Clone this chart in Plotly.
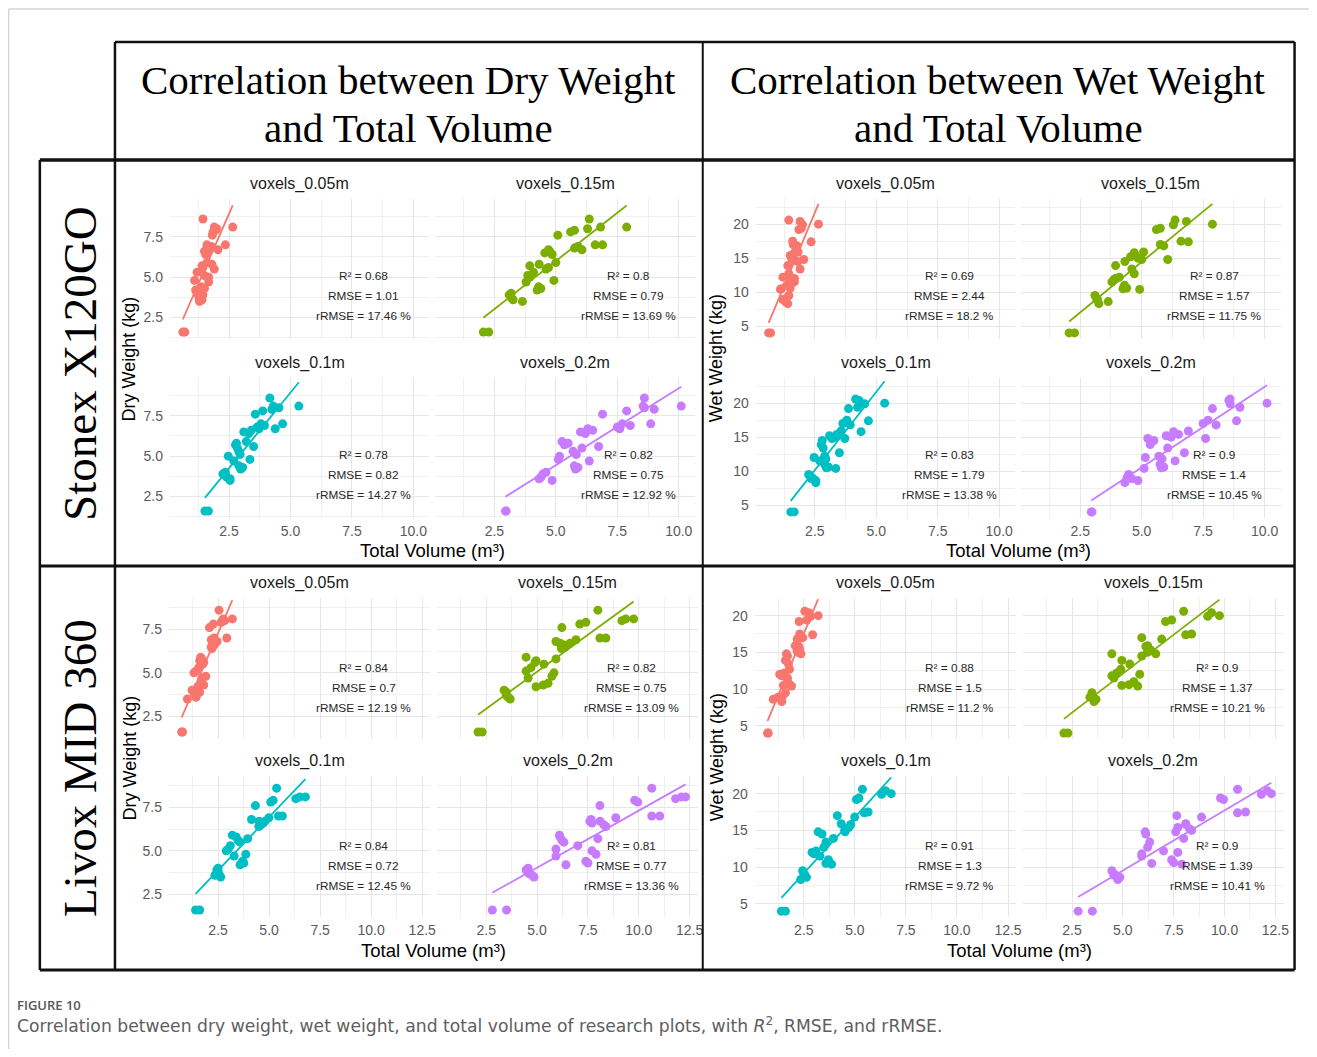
import numpy as np
import plotly.graph_objects as go

# the page body adds an 8 px margin; the figure is sized to fit inside the window
OFF = 8
FW, FH = 1317 - 2 * OFF, 1057 - 2 * OFF
SX = 1.006   # small horizontal calibration of the layout grid

# ---------------- data ----------------
# one entry per research plot; the same plots appear in every facet
DRY_WEIGHT = [1.6, 1.6, 3.5, 3.6, 3.7, 3.9, 4.0, 4.2, 4.3, 4.4, 4.7, 4.8, 5.0, 5.1, 5.3, 5.5, 5.6, 5.7,
              5.8, 5.9, 6.4, 6.5, 6.6, 6.7, 6.7, 6.8, 6.9, 7.0, 7.0, 7.6, 7.8, 7.9, 8.0, 8.1, 8.1, 8.6]
WET_WEIGHT = [4.0, 4.0, 8.6, 8.3, 9.0, 9.5, 8.9, 10.5, 10.6, 11.0, 11.5, 10.4, 12.0, 11.8, 12.2, 13.4, 12.7, 13.9,
              14.5, 14.8, 15.0, 15.2, 15.4, 14.8, 15.8, 17.0, 16.8, 17.4, 17.5, 15.9, 19.2, 19.4, 19.9, 20.4, 20.0, 20.6]

VOL_STONEX_005 = [0.62, 0.7, 1.3, 1.4, 1.28, 1.44, 1.2, 1.14, 1.5, 1.36, 1.67, 1.1, 1.67, 1.5, 1.2, 1.9, 1.44, 1.4,
                  1.8, 1.6, 1.55, 1.6, 1.5, 2.05, 1.67, 1.62, 1.78, 2.35, 1.6, 1.82, 1.85, 1.95, 2.0, 1.9, 2.65, 1.44]
VOL_STONEX_010 = [1.52, 1.66, 2.54, 2.54, 2.4, 2.25, 2.35, 2.97, 3.05, 2.9, 2.7, 3.35, 2.47, 2.95, 2.9, 2.84, 3.5, 2.76,
                  2.8, 3.2, 3.3, 3.1, 3.4, 3.72, 4.38, 3.64, 3.94, 4.68, 3.8, 3.57, 3.87, 4.24, 4.53, 4.3, 5.34, 4.16]
VOL_STONEX_015 = [2.05, 2.27, 3.64, 3.26, 3.2, 3.1, 3.18, 4.24, 4.39, 4.3, 3.79, 4.92, 3.94, 3.86, 4.09, 4.6, 4.7, 3.94,
                  4.32, 5.0, 4.85, 4.55, 4.75, 6.06, 4.7, 5.76, 5.9, 6.9, 6.6, 5.08, 5.6, 5.76, 6.29, 6.82, 7.88, 6.36]
VOL_STONEX_020 = [2.95, 2.98, 4.85, 4.32, 4.4, 4.47, 4.6, 5.8, 5.9, 5.75, 6.36, 5.1, 5.15, 5.83, 5.7, 6.06, 6.74, 5.35,
                  5.5, 5.25, 6.2, 6.0, 6.5, 7.6, 6.3, 7.5, 8.03, 8.86, 7.7, 6.9, 7.88, 9.0, 8.6, 8.55, 10.1, 8.6]
VOL_LIVOX_005 = [0.72, 0.76, 1.0, 1.42, 1.45, 1.6, 1.23, 1.5, 1.8, 1.7, 1.7, 1.9, 1.32, 1.42, 1.55, 1.75, 1.8, 1.6,
                 1.7, 1.65, 2.2, 2.17, 2.3, 2.36, 2.25, 2.45, 2.17, 2.93, 2.3, 2.08, 2.27, 2.65, 2.83, 2.75, 3.2, 2.55]
VOL_LIVOX_010 = [1.4, 1.6, 2.63, 2.35, 2.54, 2.44, 2.5, 3.58, 3.76, 3.7, 3.29, 3.86, 2.9, 3.0, 3.1, 3.58, 3.48, 3.95,
                 3.39, 3.2, 4.5, 4.6, 4.71, 4.52, 4.8, 4.14, 4.99, 5.46, 5.65, 4.33, 5.08, 5.2, 6.31, 6.5, 6.78, 5.37]
VOL_LIVOX_015 = [2.1, 2.3, 3.68, 3.58, 3.5, 3.48, 3.38, 4.95, 5.3, 5.54, 4.56, 5.73, 5.83, 4.46, 4.7, 5.34, 4.9, 4.95,
                 5.93, 4.46, 6.2, 6.4, 6.32, 6.62, 6.13, 5.93, 6.91, 8.09, 8.38, 6.22, 7.1, 7.4, 9.17, 9.36, 9.75, 7.99]
VOL_LIVOX_020 = [2.8, 3.5, 4.85, 4.75, 4.6, 4.46, 4.56, 6.42, 7.5, 7.4, 5.93, 7.9, 7.7, 5.93, 7.0, 6.32, 6.22, 7.99,
                 6.13, 6.1, 8.38, 8.28, 7.7, 7.6, 8.1, 7.65, 8.87, 10.64, 11.03, 8.09, 9.95, 9.8, 11.81, 12.1, 12.3, 10.64]

SENSORS = ["Stonex X120GO", "Livox MID 360"]
TARGETS = ["Dry", "Wet"]
VOXELS = ["voxels_0.05m", "voxels_0.15m", "voxels_0.1m", "voxels_0.2m"]   # facet order (row-wise)

VOLUMES = {
    ("Stonex X120GO", "voxels_0.05m"): VOL_STONEX_005,
    ("Stonex X120GO", "voxels_0.1m"): VOL_STONEX_010,
    ("Stonex X120GO", "voxels_0.15m"): VOL_STONEX_015,
    ("Stonex X120GO", "voxels_0.2m"): VOL_STONEX_020,
    ("Livox MID 360", "voxels_0.05m"): VOL_LIVOX_005,
    ("Livox MID 360", "voxels_0.1m"): VOL_LIVOX_010,
    ("Livox MID 360", "voxels_0.15m"): VOL_LIVOX_015,
    ("Livox MID 360", "voxels_0.2m"): VOL_LIVOX_020,
}
WEIGHTS = {"Dry": DRY_WEIGHT, "Wet": WET_WEIGHT}

# printed statistics per facet in VOXELS order
R2 = {("Stonex X120GO", "Dry"): [0.68, 0.8, 0.78, 0.82],
      ("Stonex X120GO", "Wet"): [0.69, 0.87, 0.83, 0.9],
      ("Livox MID 360", "Dry"): [0.84, 0.82, 0.84, 0.81],
      ("Livox MID 360", "Wet"): [0.88, 0.9, 0.91, 0.9]}
RMSE = {("Stonex X120GO", "Dry"): [1.01, 0.79, 0.82, 0.75],
        ("Stonex X120GO", "Wet"): [2.44, 1.57, 1.79, 1.4],
        ("Livox MID 360", "Dry"): [0.7, 0.75, 0.72, 0.77],
        ("Livox MID 360", "Wet"): [1.5, 1.37, 1.3, 1.39]}
RRMSE = {("Stonex X120GO", "Dry"): [17.46, 13.69, 14.27, 12.92],
         ("Stonex X120GO", "Wet"): [18.2, 11.75, 13.38, 10.45],
         ("Livox MID 360", "Dry"): [12.19, 13.09, 12.45, 13.36],
         ("Livox MID 360", "Wet"): [11.2, 10.21, 9.72, 10.41]}

COLORS = {"voxels_0.05m": "#F8766D", "voxels_0.15m": "#7CAE00",
          "voxels_0.1m": "#00BFC4", "voxels_0.2m": "#C77CFF"}


# ---------------- layout geometry (window pixels) ----------------
def px(x):
    return (40 + (x - 40) * SX - OFF) / FW


def py(y):
    return 1 - (y - OFF) / FH


CELL_GEOM = {
    ("Stonex X120GO", "Dry"): dict(cols=[(170, 429), (435, 694)], rows=[(199, 339), (378, 518)],
                                   xrange=[0.1, 10.65], yrange=[1.17, 9.84], ytitle_x=130, xtitle_y=550,
                                   stat_off=[77, 97, 117]),
    ("Stonex X120GO", "Wet"): dict(cols=[(755, 1014), (1020, 1279)], rows=[(199, 339), (378, 518)],
                                   xrange=[0.1, 10.65], yrange=[3.1, 23.7], ytitle_x=716, xtitle_y=550,
                                   stat_off=[77, 97, 117]),
    ("Livox MID 360", "Dry"): dict(cols=[(169, 430), (437, 697)], rows=[(598, 739), (776, 917)],
                                   xrange=[0.1, 12.9], yrange=[1.2, 9.3], ytitle_x=130, xtitle_y=950,
                                   stat_off=[70, 90, 110]),
    ("Livox MID 360", "Wet"): dict(cols=[(754, 1015), (1022, 1282)], rows=[(598, 739), (776, 917)],
                                   xrange=[0.1, 12.9], yrange=[3.2, 22.4], ytitle_x=716, xtitle_y=950,
                                   stat_off=[70, 90, 110]),
}

SANS = "Liberation Sans, Arial, sans-serif"
SERIF = "Liberation Serif, Times New Roman, serif"
GRID = "#E6E6E6"
MINOR = "#F0F0F0"

fig = go.Figure()
layout_axes = {}
annotations = []
shapes = []


def note(x, y, text, size, color="#000000", family=SANS, angle=0, xanchor="center", weight="normal"):
    annotations.append(dict(x=px(x), y=py(y), xref="paper", yref="paper", text=text,
                            showarrow=False, xanchor=xanchor, yanchor="middle", textangle=angle,
                            font=dict(family=family, size=size, color=color, weight=weight)))


k = 0
for sensor in SENSORS:
    for target in TARGETS:
        g = CELL_GEOM[(sensor, target)]
        ys = WEIGHTS[target]
        for fi, vox in enumerate(VOXELS):
            k += 1
            r, c = divmod(fi, 2)
            x0, x1 = g["cols"][c]
            y0, y1 = g["rows"][r]
            xs = VOLUMES[(sensor, vox)]
            xa = "x" if k == 1 else f"x{k}"
            ya = "y" if k == 1 else f"y{k}"
            col = COLORS[vox]
            fig.add_trace(go.Scatter(x=xs, y=ys, mode="markers", xaxis=xa, yaxis=ya,
                                     marker=dict(color=col, size=9, line=dict(width=0)),
                                     showlegend=False, hoverinfo="skip"))
            slope, icpt = np.polyfit(np.array(xs), np.array(ys), 1)
            xl = np.array([min(xs), max(xs)])
            fig.add_trace(go.Scatter(x=xl, y=slope * xl + icpt, mode="lines", xaxis=xa, yaxis=ya,
                                     line=dict(color=col, width=1.8),
                                     showlegend=False, hoverinfo="skip"))
            wet = target == "Wet"
            layout_axes["xaxis" if k == 1 else f"xaxis{k}"] = dict(
                domain=[px(x0), px(x1)], range=g["xrange"], anchor=ya,
                tick0=0, dtick=2.5, tickformat=".1f",
                showgrid=True, gridcolor=GRID, gridwidth=1.3,
                minor=dict(tick0=0, dtick=1.25, showgrid=True, gridcolor=MINOR, gridwidth=0.8),
                zeroline=False, showline=False, ticks="", ticklabelstandoff=3,
                showticklabels=(r == 1),
                tickfont=dict(family=SANS, size=14, color="#5A5A5A"))
            layout_axes["yaxis" if k == 1 else f"yaxis{k}"] = dict(
                domain=[py(y1), py(y0)], range=g["yrange"], anchor=xa,
                tick0=0, dtick=(5 if wet else 2.5), tickformat=("d" if wet else ".1f"),
                showgrid=True, gridcolor=GRID, gridwidth=1.3,
                minor=dict(tick0=0, dtick=(2.5 if wet else 1.25), showgrid=True,
                           gridcolor=MINOR, gridwidth=0.8),
                zeroline=False, showline=False, ticks="", ticklabelstandoff=6,
                showticklabels=(c == 0),
                tickfont=dict(family=SANS, size=14, color="#5A5A5A"))
            # facet strip title
            note((x0 + x1) / 2, y0 - 15, vox, 16, "#1A1A1A")
            # statistics
            sx = x0 + 0.745 * (x1 - x0)
            lines = [f"R² = {R2[(sensor, target)][fi]:g}",
                     f"RMSE = {RMSE[(sensor, target)][fi]:g}",
                     f"rRMSE = {RRMSE[(sensor, target)][fi]:g} %"]
            for off, t in zip(g["stat_off"], lines):
                note(sx, y0 + off, t, 11.8, "#262626")
        # axis titles for the cell
        cx = (g["cols"][0][0] + g["cols"][1][1]) / 2
        note(cx, g["xtitle_y"], "Total Volume (m³)", 18.5)
        cy = (g["rows"][0][0] + g["rows"][1][1]) / 2
        note(g["ytitle_x"], cy, f"{target} Weight (kg)", 18, angle=-90)

# ---------------- table headers and row labels ----------------
HEADERS = [("Correlation between Dry Weight", "and Total Volume", 408),
           ("Correlation between Wet Weight", "and Total Volume", 997)]
for l1, l2, hx in HEADERS:
    note(hx, 80, l1, 41, family=SERIF)
    note(hx, 128, l2, 41, family=SERIF)

ROW_LABELS = [("Stonex X120GO", 363), ("Livox MID 360", 768)]
for lab, ly in ROW_LABELS:
    note(80, ly, lab, 47, family=SERIF, angle=-90)

# caption
note(15, 1005, "FIGURE 10", 13, "#555555", family="Open Sans, sans-serif", xanchor="left", weight=600)
note(15, 1025, "Correlation between dry weight, wet weight, and total volume of research plots, "
               "with <i>R</i><sup>2</sup>, RMSE, and rRMSE.",
     17.2, "#5E5E5E", family="DejaVu Sans, sans-serif", xanchor="left")


# ---------------- frame lines ----------------
def hline(x0, x1, y, w=2.5, color="#111111"):
    shapes.append(dict(type="line", xref="paper", yref="paper", x0=px(x0), x1=px(x1),
                       y0=py(y), y1=py(y), line=dict(color=color, width=w)))


def vline(x, y0, y1, w=2.5, color="#111111"):
    shapes.append(dict(type="line", xref="paper", yref="paper", x0=px(x), x1=px(x),
                       y0=py(y0), y1=py(y1), line=dict(color=color, width=w)))


# page card border
hline(8.8, 1330, 9, 1.5, "#D4D4D4")
vline(8.8, 9, 1057, 1.5, "#D4D4D4")
# header box
hline(115, 1293, 42)
vline(115, 42, 160)
vline(1293, 42, 160)
vline(702, 42, 160, 2)
# main grid
hline(40, 1293, 160, 3.5)
hline(40, 1293, 566, 3)
hline(40, 1293, 970, 3)
vline(40, 160, 970)
vline(115, 160, 970)
vline(702, 160, 970, 2)
vline(1293, 160, 970)

fig.update_layout(
    width=FW, height=FH, margin=dict(l=0, r=0, t=0, b=0),
    paper_bgcolor="white", plot_bgcolor="white",
    showlegend=False, annotations=annotations, shapes=shapes,
    **layout_axes,
)

fig.write_html("out.html")
